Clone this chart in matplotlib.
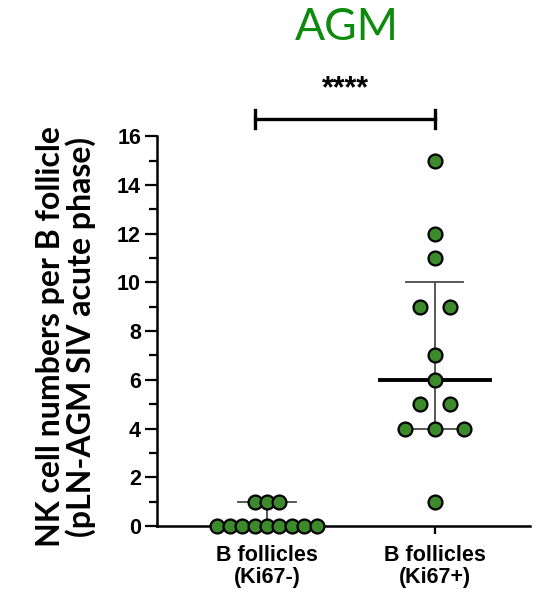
import numpy as np
import matplotlib.pyplot as plt

# data
groups  = ['B follicles\n(Ki67-)', 'B follicles\n(Ki67+)']
ki67neg = [0, 0, 0, 0, 0, 0, 0, 0, 0, 1, 1, 1]
ki67pos = [15, 12, 11, 9, 9, 7, 6, 5, 5, 4, 4, 4, 1]
medians = [0, 6]
q1      = [0, 4]
q3      = [1, 10]
yTicks  = [0, 2, 4, 6, 8, 10, 12, 14, 16]
title   = 'AGM'
yLabel  = 'NK cell numbers per B follicle\n(pLN-AGM SIV acute phase)'
sigText = '****'

dotFill  = '#3c8a2c'
titleCol = '#0e8a0e'
barCol   = '#4a4a4a'


def spread(vals, step):
    # put equal values side by side, centred on the group
    vals = np.asarray(vals, dtype=float)
    offs = np.zeros(len(vals))
    for v in np.unique(vals):
        idx = np.where(vals == v)[0]
        n = len(idx)
        offs[idx] = (np.arange(n) - (n - 1) / 2.) * step
    return offs


fig = plt.figure(figsize=(5.49, 5.95), dpi=100)
ax = fig.add_axes([0.286, 0.116, 0.679, 0.655])

xPos = [1, 2]
steps = [0.074, 0.176]
for x, vals, step, med, lo, hi in zip(xPos, [ki67neg, ki67pos], steps, medians, q1, q3):
    # range line and caps
    ax.plot([x, x], [lo, hi], color=barCol, lw=1.3, zorder=2, clip_on=False)
    for y in (lo, hi):
        ax.plot([x - 0.17, x + 0.17], [y, y], color=barCol, lw=1.3, zorder=2, clip_on=False)
    ax.plot([x - 0.33, x + 0.33], [med, med], color='black', lw=2.8, zorder=3, clip_on=False)
    ax.plot(x + spread(vals, step), vals, 'o', ms=10, mfc=dotFill, mec='black',
            mew=1.6, zorder=4, clip_on=False)

ax.set_xlim(0.345, 2.565)
ax.set_ylim(0, 16)
ax.set_yticks(yTicks)
ax.set_yticks(np.arange(1, 16, 2), minor=True)
ax.set_xticks(xPos)
ax.set_xticklabels(groups, fontsize=15.5, fontweight='bold', family='Liberation Sans',
                   linespacing=1.05)
for lab in ax.get_yticklabels():
    lab.set_fontsize(15.5)
    lab.set_fontweight('bold')
    lab.set_family('Liberation Sans')

for s in ['top', 'right']:
    ax.spines[s].set_visible(False)
for s in ['left', 'bottom']:
    ax.spines[s].set_linewidth(1.8)
ax.tick_params(axis='y', which='major', length=8.5, width=1.6, pad=3)
ax.tick_params(axis='y', which='minor', length=5.5, width=1.6)
ax.tick_params(axis='x', which='major', length=6, width=1.6, pad=7.5)

# significance bracket
x1, x2, yb = 0.93, 2.0, 16.7
ax.plot([x1, x2], [yb, yb], color='black', lw=2.4, clip_on=False)
for xx in (x1, x2):
    ax.plot([xx, xx], [yb - 0.37, yb + 0.37], color='black', lw=2.4, clip_on=False)
ax.text((x1 + x2) / 2, yb + 1.25, sigText, ha='center', va='center',
        fontsize=22, fontweight='bold', family='Liberation Sans', clip_on=False)

fig.text(347 / 549, 1 - 27 / 595, title, ha='center', va='center',
         fontsize=32, color=titleCol, family='Lato')
fig.text(66 / 549, 1 - 337 / 595, yLabel, ha='center', va='center', rotation=90,
         fontsize=23, fontweight='bold', family='Lato', multialignment='center',
         linespacing=1.0)

plt.savefig('out.png', dpi=100)
plt.close()
